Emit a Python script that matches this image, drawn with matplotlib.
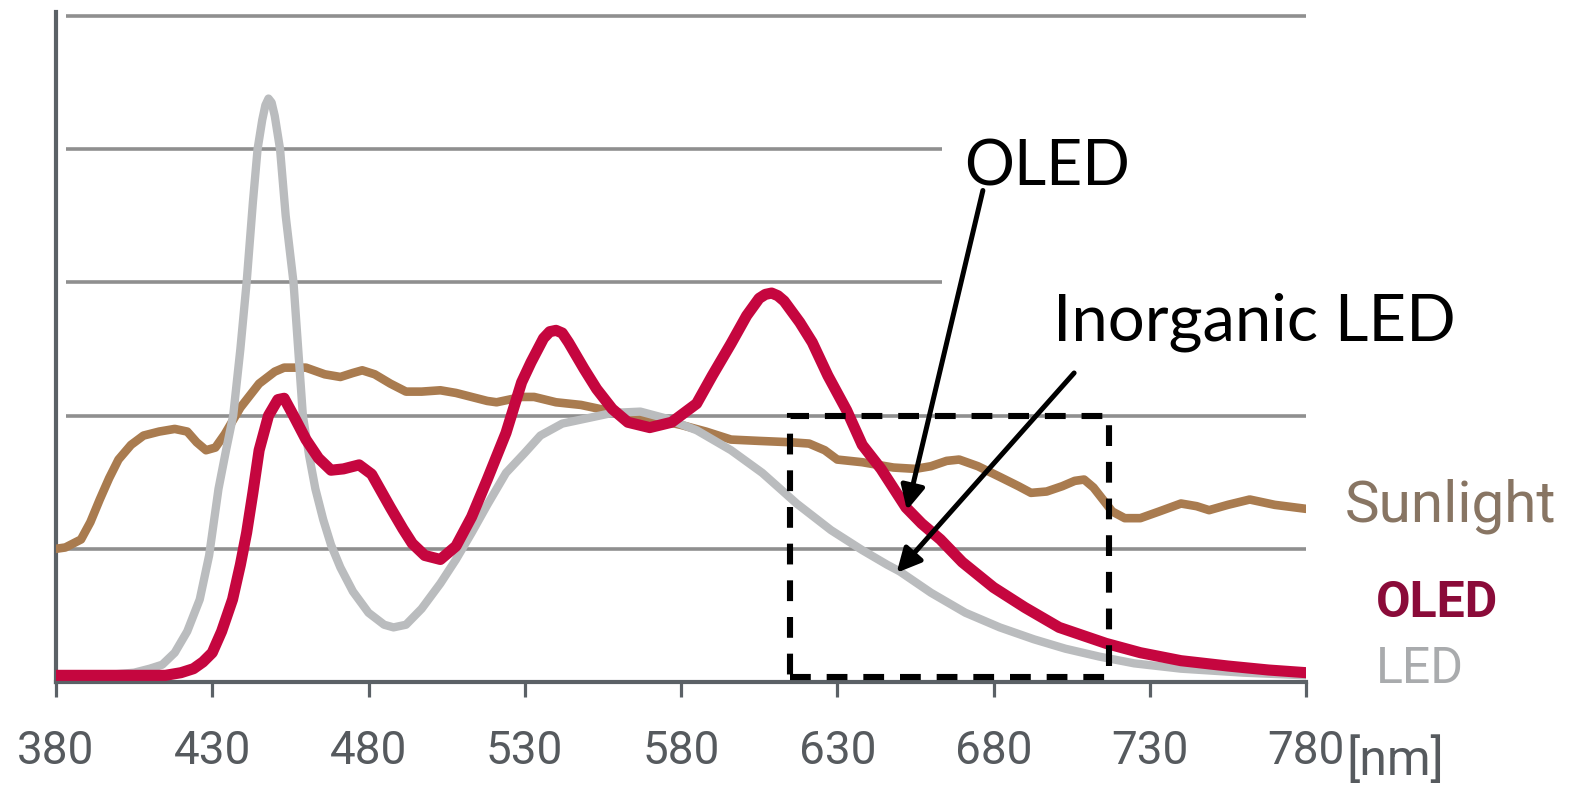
import matplotlib
matplotlib.use("Agg")
import matplotlib.pyplot as plt
from matplotlib.patches import Rectangle

plt.rcParams['font.family'] = ['Roboto', 'DejaVu Sans']

# ---------------- data ----------------
sun_nm = [380, 383, 388, 391, 394, 397, 400, 404, 408, 413, 418, 422, 425, 428, 431,
          434, 439, 445, 450, 453, 460, 466, 471, 475, 478, 482, 487, 492, 497, 503,
          508, 513, 518, 521, 525, 529, 533, 540, 548, 558, 565, 572, 580, 588, 596,
          605, 615, 621, 626, 630, 638, 648, 655, 660, 665, 669, 675, 682, 688, 692,
          697, 702, 706, 709, 712, 715, 718, 722, 727, 733, 740, 745, 749, 755, 762,
          770, 780]
sun_val = [1.00, 1.01, 1.07, 1.20, 1.37, 1.53, 1.67, 1.78, 1.85, 1.88, 1.90, 1.88, 1.80,
           1.74, 1.76, 1.86, 2.06, 2.24, 2.33, 2.36, 2.36, 2.31, 2.29, 2.32, 2.34, 2.31,
           2.24, 2.18, 2.18, 2.19, 2.17, 2.14, 2.11, 2.10, 2.12, 2.14, 2.14, 2.10, 2.08,
           2.03, 2.00, 1.97, 1.93, 1.88, 1.82, 1.81, 1.80, 1.79, 1.74, 1.67, 1.65, 1.61,
           1.60, 1.62, 1.66, 1.67, 1.62, 1.54, 1.47, 1.42, 1.43, 1.47, 1.51, 1.52, 1.46,
           1.37, 1.28, 1.23, 1.23, 1.28, 1.34, 1.32, 1.29, 1.33, 1.37, 1.33, 1.30]

led_nm = [380, 395, 405, 410, 414, 418, 422, 426, 429, 432, 434.5, 436.7, 439, 441, 443,
          444.5, 446, 447, 448, 449, 450, 451.7, 453.5, 456, 457.5, 459, 461, 463, 465.5,
          468, 471, 475, 480, 485, 488, 492, 497, 503, 508, 513, 518, 524, 530, 535, 542,
          550, 558, 567, 575, 585, 596, 606, 617, 628, 638, 646, 650, 660, 671, 682, 693,
          703, 714, 725, 740, 760, 780]
led_val = [0.05, 0.05, 0.07, 0.10, 0.13, 0.22, 0.38, 0.62, 0.95, 1.45, 1.75, 2.00, 2.50,
           3.00, 3.60, 4.00, 4.22, 4.33, 4.38, 4.35, 4.25, 4.00, 3.50, 3.00, 2.50, 2.00,
           1.70, 1.45, 1.22, 1.03, 0.86, 0.68, 0.52, 0.43, 0.41, 0.43, 0.55, 0.74, 0.92,
           1.12, 1.33, 1.57, 1.72, 1.85, 1.94, 1.98, 2.02, 2.03, 1.98, 1.89, 1.74, 1.57,
           1.34, 1.14, 0.99, 0.88, 0.83, 0.67, 0.52, 0.41, 0.32, 0.25, 0.19, 0.14, 0.10,
           0.07, 0.05]

oled_nm = [380, 400, 415, 420, 424, 427, 430, 433, 436.5, 439, 441, 443, 445, 448, 451,
           453, 456, 460, 464, 468, 472, 477, 481, 487, 491, 494, 498, 503, 508, 513, 518,
           524, 529, 532, 536, 538, 540, 542, 544, 549, 553, 558, 563, 570, 577, 585, 590,
           596, 601, 605, 607, 609, 611, 613, 618, 622, 627, 633, 638, 644, 652, 657, 663,
           670, 680, 690, 701, 716, 727, 740, 755, 768, 780]
oled_val = [0.05, 0.05, 0.05, 0.07, 0.10, 0.15, 0.22, 0.38, 0.62, 0.88, 1.12, 1.42, 1.74,
            2.00, 2.12, 2.13, 2.00, 1.82, 1.68, 1.59, 1.60, 1.63, 1.56, 1.31, 1.15, 1.04,
            0.95, 0.92, 1.02, 1.24, 1.52, 1.87, 2.25, 2.40, 2.58, 2.63, 2.64, 2.62, 2.55,
            2.35, 2.20, 2.05, 1.95, 1.91, 1.95, 2.09, 2.30, 2.54, 2.75, 2.88, 2.91, 2.92,
            2.90, 2.86, 2.70, 2.55, 2.30, 2.04, 1.78, 1.60, 1.31, 1.19, 1.07, 0.90, 0.71,
            0.56, 0.41, 0.29, 0.22, 0.16, 0.12, 0.09, 0.07]

tick_values = [380, 430, 480, 530, 580, 630, 680, 730, 780]
tick_labels = ['380', '430', '480', '530', '580', '630', '680', '730', '780']
grid_levels = [1, 2, 3, 4, 5]
grid_ends = [780, 780, 663.5, 663.5, 780]
legend_names = ['Sunlight', 'OLED', 'LED']
legend_y = [1.32, 0.59, 0.10]
zoom_box = (615, 0.04, 717, 2.0)   # x0, y0, x1, y1

# ---------------- styling ----------------
C_SUN = '#a97b4f'
C_OLED = '#c5063f'
C_LED = '#babcbe'
C_GRID = '#8f8f8f'
C_AXIS = '#5b6166'
C_TICK = '#565a5e'

fig = plt.figure(figsize=(15.88, 7.85), dpi=100)
ax = fig.add_axes([56 / 1588, 103 / 785, 1250 / 1588, 670 / 785])
ax.set_xlim(380, 780)
ax.set_ylim(0, 5.03)

for lvl, xe in zip(grid_levels, grid_ends):
    ax.hlines(lvl, 383.2, xe, color=C_GRID, lw=2.6, zorder=1)

ax.plot(sun_nm, sun_val, color=C_SUN, lw=6.2, zorder=3, solid_joinstyle='round',
        solid_capstyle='round')
ax.plot(led_nm, led_val, color=C_LED, lw=6.0, zorder=4, solid_joinstyle='round',
        solid_capstyle='round')
ax.plot(oled_nm, oled_val, color=C_OLED, lw=8.0, zorder=5, solid_joinstyle='round',
        solid_capstyle='round')

for s in ['top', 'right']:
    ax.spines[s].set_visible(False)
for s in ['left', 'bottom']:
    ax.spines[s].set_color(C_AXIS)
    ax.spines[s].set_linewidth(3.0)
    ax.spines[s].set_zorder(2)

ax.set_yticks([])
ax.set_xticks(tick_values)
ax.set_xticklabels(tick_labels)
ax.tick_params(axis='x', direction='out', length=11, width=2.3, color=C_AXIS,
               labelsize=33, labelcolor=C_TICK, pad=23)

ax.text(793, -0.59, '[nm]', fontsize=36, color=C_TICK, va='center', ha='left',
        clip_on=False)

legend_colors = [('#887563', 'normal'), ('#8a0b39', 'bold'), ('#a9abad', 'normal')]
legend_x = [792.5, 802.5, 802.5]
legend_sizes = [42, 36, 36]
for name, yy, (c, w), xx, fs in zip(legend_names, legend_y, legend_colors, legend_x, legend_sizes):
    ax.text(xx, yy, name, fontsize=fs, color=c, fontweight=w, va='center', ha='left',
            clip_on=False)

# dashed zoom box
x0, y0, x1, y1 = zoom_box
ax.add_patch(Rectangle((x0, y0), x1 - x0, y1 - y0, fill=False, ec='black', lw=4.4,
                       linestyle=(0, (3.4, 2.6)), zorder=7, clip_on=False))

# annotations
ax.text(670.6, 3.86, 'OLED', family=['Lato', 'DejaVu Sans'], fontsize=45, color='black',
        va='center', ha='left', zorder=8)
ax.text(699, 2.70, 'Inorganic LED', family=['Lato', 'DejaVu Sans'], fontsize=47,
        color='black', va='center', ha='left', zorder=8)
arrow = dict(arrowstyle='-|>', lw=3.6, color='black', mutation_scale=36,
             shrinkA=0, shrinkB=0)
ax.annotate('', xy=(652.3, 1.29), xytext=(676.6, 3.69), arrowprops=arrow, zorder=8)
ax.annotate('', xy=(649, 0.82), xytext=(705.8, 2.32), arrowprops=arrow, zorder=8)

fig.savefig('out.png', dpi=100, facecolor='white')
